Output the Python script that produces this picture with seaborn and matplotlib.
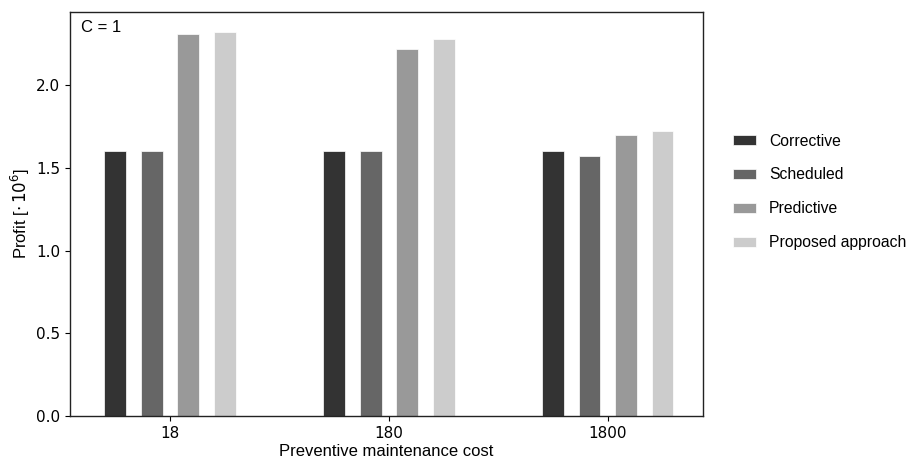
import pandas as pd
import matplotlib
matplotlib.use("Agg")
import matplotlib.pyplot as plt
import seaborn as sns

costs = ["18", "180", "1800"]
methods = ["Corrective", "Scheduled", "Predictive", "Proposed approach"]
corrective = [1.60, 1.60, 1.60]
scheduled = [1.60, 1.60, 1.573]
predictive = [2.31, 2.22, 1.70]
proposed = [2.32, 2.28, 1.72]
colors = ["#333333", "#666666", "#999999", "#cccccc"]

rows = []
for m, vals in zip(methods, [corrective, scheduled, predictive, proposed]):
    for c, v in zip(costs, vals):
        rows.append({"cost": c, "method": m, "profit": v})
df = pd.DataFrame(rows)

sns.set_style("ticks", {"text.color": "black", "xtick.color": "black",
                        "ytick.color": "black", "axes.labelcolor": "black"})
plt.rcParams["font.family"] = ["DejaVu Sans"]

fig = plt.figure(figsize=(9.1, 4.65), dpi=100)
ax = fig.add_axes([0.077, 0.105, 0.6955, 0.869])

sns.barplot(data=df, x="cost", y="profit", hue="method", order=costs,
            hue_order=methods, palette=colors, width=0.667, gap=0.4,
            edgecolor="white", linewidth=0.5, ax=ax)

ax.set_xlim(-0.457, 2.435)
ax.set_ylim(0, 2.44)
ax.set_yticks([0.0, 0.5, 1.0, 1.5, 2.0])
ax.tick_params(labelsize=11)
lab = dict(family="Liberation Sans", fontsize=12)
ax.set_xlabel("Preventive maintenance cost", labelpad=2, **lab)
ax.set_ylabel(r"Profit [$\cdot\, 10^6$]", labelpad=3, **lab)
ax.text(0.017, 0.98, "C = 1", transform=ax.transAxes, ha="left", va="top", **lab)
for s in ax.spines.values():
    s.set_linewidth(1.0)
    s.set_color("#222222")

ax.legend(loc="center left", bbox_to_anchor=(1.025, 0.555), frameon=False,
          prop={"family": "Liberation Sans", "size": 11.3}, labelspacing=1.2,
          handlelength=1.5, handleheight=0.6)

fig.savefig("out.png", dpi=100)
